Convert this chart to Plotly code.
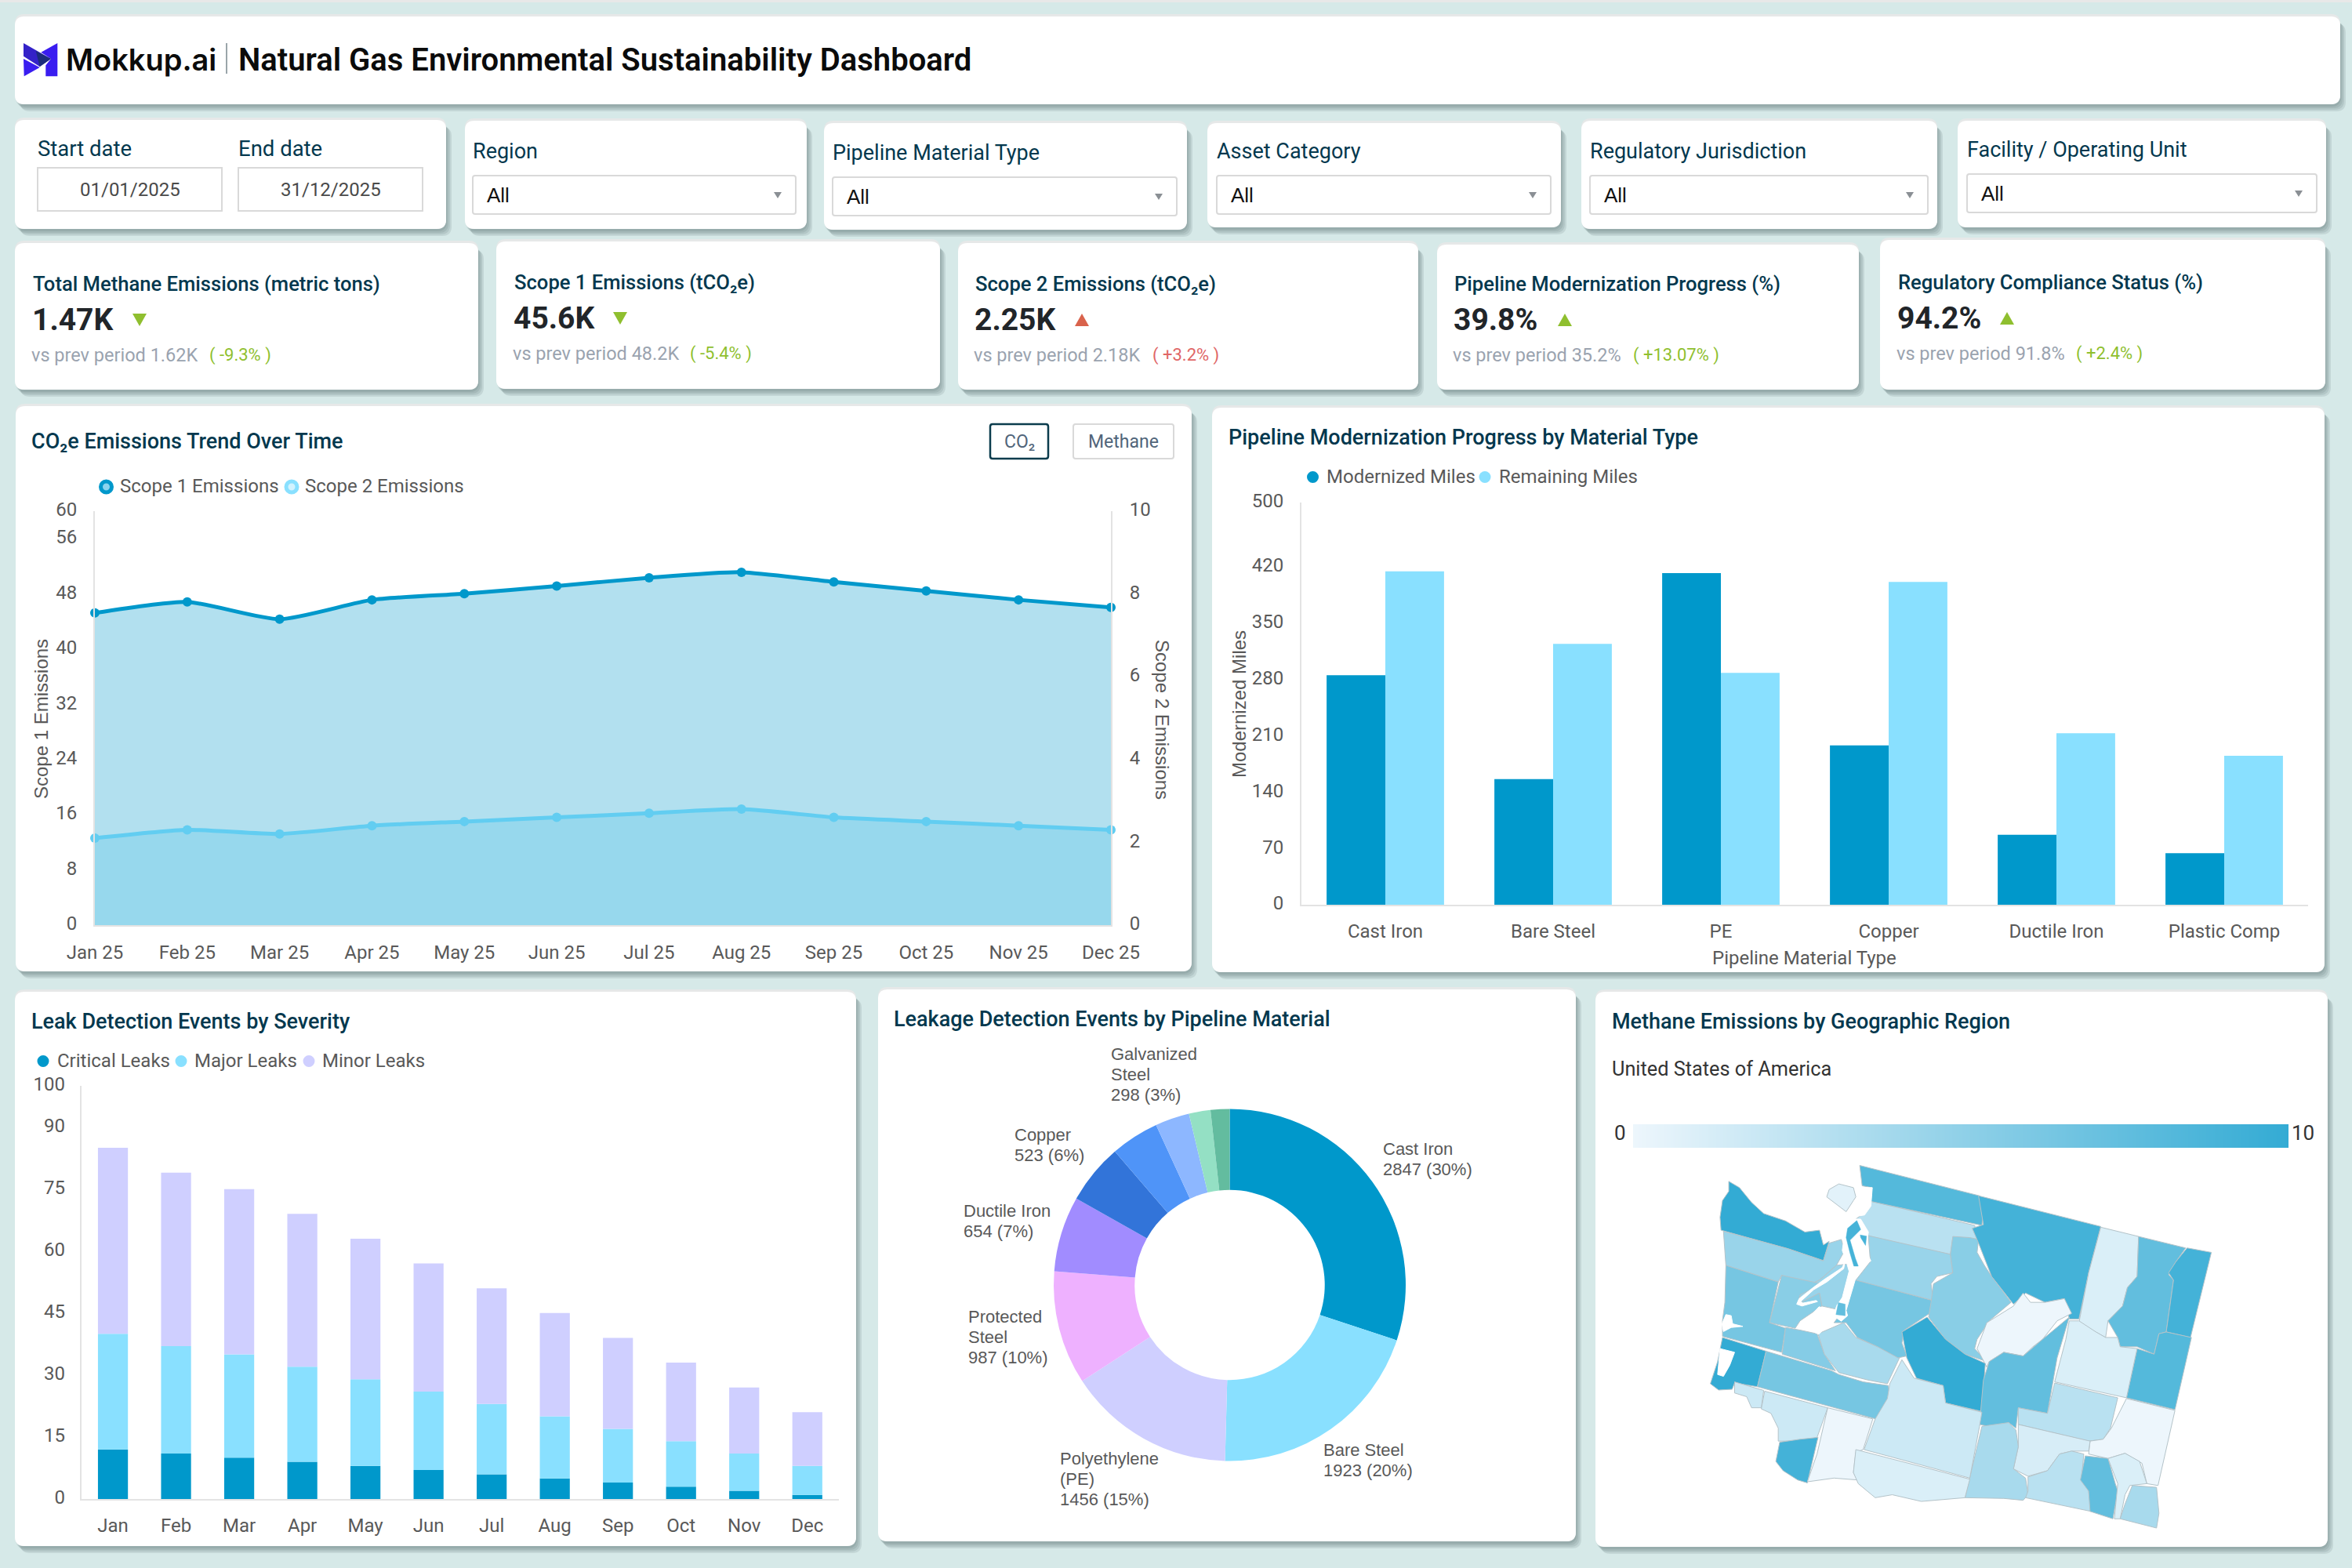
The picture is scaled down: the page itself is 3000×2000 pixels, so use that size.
import plotly.graph_objects as go
from plotly.colors import find_intermediate_color, hex_to_rgb, label_rgb

W = 3000
H = 2000

##data
months = ["Jan 25", "Feb 25", "Mar 25", "Apr 25", "May 25", "Jun 25", "Jul 25", "Aug 25", "Sep 25", "Oct 25", "Nov 25", "Dec 25"]
scope1 = [45.2, 46.8, 44.3, 47.1, 48.0, 49.1, 50.3, 51.1, 49.7, 48.4, 47.1, 46.0]
scope2 = [2.1, 2.3, 2.2, 2.4, 2.5, 2.6, 2.7, 2.8, 2.6, 2.5, 2.4, 2.3]
scope1_ticks = [0, 8, 16, 24, 32, 40, 48, 56, 60]
scope2_ticks = [0, 2, 4, 6, 8, 10]

materials = ["Cast Iron", "Bare Steel", "PE", "Copper", "Ductile Iron", "Plastic Comp"]
modernized = [285, 156, 412, 198, 87, 64]
remaining = [414, 324, 288, 401, 213, 185]
miles_ticks = [0, 70, 140, 210, 280, 350, 420, 500]

short_months = ["Jan", "Feb", "Mar", "Apr", "May", "Jun", "Jul", "Aug", "Sep", "Oct", "Nov", "Dec"]
critical = [12, 11, 10, 9, 8, 7, 6, 5, 4, 3, 2, 1]
major = [28, 26, 25, 23, 21, 19, 17, 15, 13, 11, 9, 7]
minor = [45, 42, 40, 37, 34, 31, 28, 25, 22, 19, 16, 13]
leak_ticks = [0, 15, 30, 45, 60, 75, 90, 100]

pie_names = ["Cast Iron", "Bare Steel", "Polyethylene (PE)", "Protected Steel", "Ductile Iron", "Copper", "Plastic Comp", "Galvanized Steel", "Wrought Iron", "Other"]
pie_values = [2847, 1923, 1456, 987, 654, 523, 420, 298, 187, 165]
pie_colors = ["#0098CB", "#89E0FF", "#CFCFFF", "#EEB1FF", "#A18CFF", "#3274D9", "#4F94F8", "#8DB7FF", "#94E0C4", "#63BC9F"]

kpi_titles = ["Total Methane Emissions (metric tons)", "Scope 1 Emissions (tCO₂e)", "Scope 2 Emissions (tCO₂e)", "Pipeline Modernization Progress (%)", "Regulatory Compliance Status (%)"]
kpi_values = ["1.47K", "45.6K", "2.25K", "39.8%", "94.2%"]
kpi_prev = ["1.62K", "48.2K", "2.18K", "35.2%", "91.8%"]
kpi_delta = ["( -9.3% )", "( -5.4% )", "( +3.2% )", "( +13.07% )", "( +2.4% )"]
kpi_up = [False, False, True, True, True]
kpi_good = [True, True, False, True, True]

filter_names = ["Region", "Pipeline Material Type", "Asset Category", "Regulatory Jurisdiction", "Facility / Operating Unit"]

colorbar_range = [0, 10]

county_names = ["Clallam", "Jefferson", "Kitsap", "Grays Harbor", "Mason", "Thurston", "Pacific", "Wahkiakum", "Lewis", "Cowlitz", "Clark", "Skamania",
                "Pierce", "King", "Snohomish", "Skagit", "Whatcom", "Chelan", "Okanogan", "Douglas", "Kittitas", "Grant", "Ferry", "Stevens", "Pend Oreille",
                "Spokane", "Lincoln", "Adams", "Whitman", "Franklin", "Benton", "Walla Walla", "Columbia", "Garfield", "Asotin", "Klickitat", "Yakima", "San Juan"]
county_values = [10, 4.5, 4.5, 6.4, 5.4, 5.6, 10, 1.8, 6.4, 1.8, 9.1, 0,
                 3.7, 6.4, 4.5, 2.8, 8.2, 5.4, 9.1, 0, 10, 7.5, 1, 7.5, 9.1,
                 8.2, 1, 2.8, 0, 1.2, 3.7, 2.8, 7.5, 1, 3.7, 1, 1.8, 0.6]
county_outlines = [
    [(283,523),(305,540),(330,580),(355,610),(400,630),(440,660),(470,655),(478,695),(490,685),(478,737),(405,705),(267,655),(265,620),(270,575),(283,550)],
    [(272,658),(405,705),(478,738),(490,690),(515,680),(522,710),(505,750),(470,790),(435,810),(392,777),(385,795),(277,750)],
    [(435,810),(470,790),(505,750),(540,745),(525,800),(510,870),(475,860),(470,825),(425,855),(430,830)],
    [(277,750),(385,795),(367,905),(400,920),(392,985),(270,942),(270,900),(275,850)],
    [(392,777),(475,800),(430,830),(425,855),(470,825),(475,860),(430,900),(420,920),(367,905)],
    [(400,918),(430,925),(465,935),(480,990),(503,1035),(393,990)],
    [(270,945),(360,982),(342,1078),(295,1068),(290,1085),(262,1087),(245,1070),(260,1010)],
    [(295,1065),(355,1088),(350,1135),(330,1135),(320,1105),(295,1095)],
    [(360,982),(495,1035),(510,1045),(560,1065),(612,1075),(615,1110),(600,1170),(342,1078)],
    [(357,1090),(487,1135),(465,1215),(430,1225),(385,1225),(385,1190),(370,1150),(350,1138)],
    [(388,1228),(430,1220),(467,1215),(445,1338),(425,1330),(395,1305),(380,1280)],
    [(487,1135),(580,1165),(560,1248),(545,1255),(540,1310),(548,1330),(500,1325),(445,1335),(465,1260)],
    [(467,935),(520,905),(545,945),(590,970),(635,1000),(610,1070),(570,1060),(510,1040),(480,990)],
    [(540,787),(703,845),(697,880),(645,925),(640,960),(650,995),(632,1000),(590,970),(548,945),(525,905),(500,905),(520,870)],
    [(570,660),(740,720),(745,770),(712,780),(700,800),(705,845),(545,790),(575,740)],
    [(570,575),(790,642),(798,680),(745,675),(740,720),(555,665),(545,625),(565,605)],
    [(553,480),(800,562),(808,600),(805,642),(568,575),(578,540),(558,535)],
    [(745,672),(780,675),(798,680),(795,715),(810,750),(825,780),(865,850),(820,900),(795,950),(790,975),(815,1010),(770,990),(730,950),(695,890),(700,850),(705,800),(745,770),(740,720)],
    [(798,562),(1050,645),(1025,770),(1005,895),(985,895),(975,840),(935,850),(895,825),(870,855),(825,780),(798,690),(785,650),(808,640)],
    [(890,825),(905,850),(935,850),(975,840),(990,880),(960,900),(930,950),(910,970),(890,995),(850,985),(820,1010),(815,1025),(795,975),(815,905),(870,860)],
    [(692,890),(730,950),(770,990),(812,1015),(805,1145),(730,1122),(725,1075),(670,1055),(650,1000),(640,930)],
    [(985,890),(960,1000),(940,1150),(880,1135),(875,1190),(860,1175),(835,1190),(800,1180),(808,1060),(820,1010),(850,985),(890,995),(930,950)],
    [(1050,647),(1128,672),(1125,780),(1105,810),(1095,860),(1065,900),(1060,945),(1040,930),(1005,905),(1025,770)],
    [(1128,672),(1225,703),(1205,740),(1190,775),(1200,790),(1185,930),(1170,935),(1160,990),(1125,970),(1090,970),(1085,945),(1065,900),(1095,860),(1105,810),(1125,780)],
    [(1228,703),(1278,715),(1235,945),(1185,930),(1200,790),(1190,770),(1205,740)],
    [(1185,930),(1237,945),(1203,1140),(1103,1108),(1125,975),(1160,990),(1170,935)],
    [(985,900),(1005,900),(1040,930),(1060,945),(1085,945),(1090,970),(1125,975),(1103,1108),(955,1065),(978,950)],
    [(955,1068),(1085,1108),(1070,1190),(1055,1220),(1025,1225),(880,1180),(880,1135),(940,1150)],
    [(1103,1110),(1203,1142),(1168,1345),(1145,1340),(1135,1285),(1100,1258),(1065,1272),(1025,1260),(1028,1225),(1055,1220),(1072,1190)],
    [(880,1180),(1028,1225),(1025,1252),(990,1252),(965,1260),(940,1305),(900,1320),(870,1300),(880,1240)],
    [(805,1185),(860,1175),(875,1195),(880,1240),(870,1300),(895,1325),(900,1370),(890,1385),(850,1380),(770,1378)],
    [(900,1322),(940,1305),(965,1260),(990,1252),(1015,1260),(1010,1330),(1025,1360),(1030,1415),(895,1378),(900,1360)],
    [(1018,1265),(1065,1272),(1080,1340),(1085,1360),(1075,1435),(1028,1415),(1025,1360),(1008,1330)],
    [(1065,1272),(1100,1258),(1130,1280),(1145,1340),(1110,1345),(1100,1370),(1090,1435),(1078,1435),(1085,1340)],
    [(1115,1345),(1165,1350),(1170,1420),(1165,1460),(1090,1435),(1100,1395)],
    [(545,1248),(780,1328),(770,1378),(680,1388),(620,1370),(585,1378),(550,1340),(540,1310)],
    [(640,1005),(665,1055),(725,1075),(730,1122),(805,1147),(800,1185),(780,1325),(562,1248),(585,1165),(610,1110),(615,1070)],
    [(490,545),(510,530),(540,540),(545,565),(525,605),(510,590),(485,565)],
]
water_outlines = [
    [(555,625),(571,660),(568,682),(566,710),(576,738),(560,752),(544,788),(536,823),(533,837),(525,872),(528,886),(515,901),(498,886),(506,858),(517,837),(523,809),(531,766),(525,738),(517,710),(520,682),(522,660),(539,625)],
    [(523,738),(517,756),(480,788),(458,809),(428,840),(423,855),(434,860),(466,848),(463,845),(436,852),(431,848),(458,816),(485,795),(520,759)],
    [(434,911),(461,872),(469,862),(496,872),(490,908),(469,936),(461,932),(455,915),(442,922)],
    [(277,883),(288,886),(291,908),(312,915),(288,918),(272,929),(269,908)],
    [(265,975),(295,985),(285,1020),(272,1050),(260,1045)],
    [(552,540),(579,540),(576,590),(563,614),(544,618),(541,576),(550,572)],
]
island_values = [9, 9, 7.5]
island_outlines = [
    [(528,650),(547,629),(555,653),(544,668),(533,682),(544,731),(550,752),(541,752),(533,717),(525,675)],
    [(554,668),(567,671),(565,696),(555,675)],
    [(509,851),(523,855),(523,886),(504,883)],
]

ROBOTO = "Roboto"
ARIAL = "Liberation Sans"
NAVY = "#03384E"
GREY = "#595959"
GREEN = "#8FBF2F"
RED = "#E06666"
BG = "#D6E9E8"
map_low = "#EDF6FC"
map_high = "#33ABD4"


def px(x):
    return x / W


def py(y):
    return 1 - y / H


annotations = []
shapes = []


def add_text(x, y, s, size, color=GREY, family=ROBOTO, weight=400, anchor="left", angle=0):
    if anchor == "left":
        x = x - 2  ##annotation box has its own padding
    annotations.append(dict(x=px(x), y=py(y), xref="paper", yref="paper", text=s, showarrow=False, xanchor=anchor, yanchor="middle",
                            textangle=angle, font=dict(family=family, size=size, color=color, weight=weight)))


def rounded(x0, y0, x1, y1, r):
    pts = [(x0 + r, y0), (x1 - r, y0), "q", (x1, y0), (x1, y0 + r), (x1, y1 - r), "q", (x1, y1), (x1 - r, y1), (x0 + r, y1), "q", (x0, y1), (x0, y1 - r), (x0, y0 + r), "q", (x0, y0), (x0 + r, y0)]
    path = ""
    i = 0
    first = True
    while i < len(pts):
        p = pts[i]
        if p == "q":
            a = pts[i + 1]
            b = pts[i + 2]
            path += f"Q {px(a[0])} {py(a[1])} {px(b[0])} {py(b[1])} "
            i += 3
        else:
            path += f"{'M' if first else 'L'} {px(p[0])} {py(p[1])} "
            first = False
            i += 1
    return path + "Z"


def add_path(path, fill, line=None, width=0):
    shapes.append(dict(type="path", path=path, xref="paper", yref="paper", fillcolor=fill, line=dict(color=line or fill, width=width), layer="below"))


def add_card(x0, y0, x1, y1):
    for off in [9, 7, 5, 3]:
        add_path(rounded(x0 + off - 2, y0 + off, x1 + off - 2, y1 + off, 12), "rgba(70,90,95,0.13)")
    add_path(rounded(x0, y0 - 3, x1, y1, 12), "#E6E8E8")
    add_path(rounded(x0, y0, x1, y1, 12), "white")


def add_poly(points, fill):
    path = "M " + " L ".join(f"{px(x)} {py(y)}" for x, y in points) + " Z"
    add_path(path, fill)


def add_dot(x, y, color, d=15, ring=None):
    shapes.append(dict(type="circle", xref="paper", yref="paper", x0=px(x - d / 2), x1=px(x + d / 2), y0=py(y + d / 2), y1=py(y - d / 2),
                       fillcolor=ring or color, line=dict(color=color, width=5 if ring else 0), layer="above"))


##background and cards
add_poly([(0, 0), (W, 0), (W, 3), (0, 3)], "#E8E8E8")
add_card(19, 21, 2985, 133)
add_card(19, 153, 569, 292)
add_card(593, 154, 1029, 292)
add_card(1051, 157, 1514, 293)
add_card(1540, 157, 1991, 290)
add_card(2017, 154, 2471, 292)
add_card(2497, 154, 2967, 290)
kpi_boxes = [(19, 310, 610, 497), (633, 308, 1199, 496), (1222, 310, 1809, 497), (1833, 312, 2371, 497), (2398, 306, 2966, 497)]
for b in kpi_boxes:
    add_card(*b)
add_card(20, 518, 1520, 1239)
add_card(1546, 520, 2965, 1240)
add_card(19, 1265, 1092, 1972)
add_card(1120, 1262, 2010, 1966)
add_card(2035, 1265, 2969, 1973)

##header, logo pieces
add_poly([(73.3, 55), (73.3, 97.3), (58.3, 97.3), (58.3, 83.3), (65, 75), (52.3, 66.7)], "#3A1DF0")
add_poly([(30, 55), (65, 75), (50.7, 85), (30, 71.7)], "#3422C8")
add_poly([(45.7, 65), (65, 75), (50.7, 85)], "#1C2C7C")
add_poly([(30, 75), (50.7, 86), (30.7, 97.3)], "#3A1DF0")
add_text(84, 76, "Mokkup.ai", 38, "#0B0B0B", family="Inter", weight=600)
add_path(f"M {px(289)} {py(55)} L {px(289)} {py(94)}", "rgba(0,0,0,0)", "#9AA5AA", 2)
add_text(304, 76, "Natural Gas Environmental Sustainability Dashboard", 40, "#0B0B0B", weight=600)

##date filters
add_text(48, 189, "Start date", 27.5, NAVY)
add_text(304, 189, "End date", 27.5, NAVY)
for x0, x1, label in [(48, 283, "01/01/2025"), (304, 539, "31/12/2025")]:
    add_path(f"M {px(x0)} {py(214)} L {px(x1)} {py(214)} L {px(x1)} {py(269)} L {px(x0)} {py(269)} Z", "white", "#D9D9D9", 2)
    add_text((x0 + x1) / 2, 242, label, 24, "#4A4A4A", anchor="center")

##dropdown filters
filter_x0 = [603, 1062, 1552, 2028, 2509]
filter_x1 = [1015, 1501, 1978, 2459, 2955]
filter_top = [224, 226, 224, 224, 222]
for name, x0, x1, top in zip(filter_names, filter_x0, filter_x1, filter_top):
    add_text(x0, top - 31, name, 27, NAVY)
    add_path(rounded(x0, top, x1, top + 49, 3), "white", "#D9D9D9", 2)
    add_text(x0 + 18, top + 25, "All", 26, "#111111", family=ARIAL)
    ax = x1 - 23
    add_poly([(ax - 5, top + 21), (ax + 5, top + 21), (ax, top + 29)], "#8A8F94")

##kpi cards
kpi_x = [42, 656, 1244, 1855, 2421]
kpi_title_y = [362, 360, 362, 362, 360]
kpi_tri_x = [178, 791, 1380, 1996, 2560]
kpi_delta_x = [265, 878, 1468, 2081, 2646]
for i in range(5):
    x = kpi_x[i]
    y = kpi_title_y[i]
    add_text(x, y, kpi_titles[i], 25.6, NAVY, weight=500)
    add_text(x - 1, y + 46, kpi_values[i], 39, "#212529", weight=700)
    add_text(x - 2, y + 91, "vs prev period " + kpi_prev[i], 23.5, "#9AA3AF")
    col = GREEN if kpi_good[i] else RED
    add_text(kpi_delta_x[i] + 2, y + 91, kpi_delta[i], 22, col)
    tx = kpi_tri_x[i]
    ty = y + 46
    if kpi_up[i]:
        tri_col = GREEN if kpi_good[i] else "#D9634C"
        add_poly([(tx - 9, ty + 8), (tx + 9, ty + 8), (tx, ty - 8)], tri_col)
    else:
        add_poly([(tx - 9, ty - 8), (tx + 9, ty - 8), (tx, ty + 8)], GREEN)

##panel titles
add_text(40, 563, "CO₂e Emissions Trend Over Time", 27, NAVY, weight=500)
add_text(1567, 558, "Pipeline Modernization Progress by Material Type", 27, NAVY, weight=500)
add_text(40, 1303, "Leak Detection Events by Severity", 27, NAVY, weight=500)
add_text(1140, 1300, "Leakage Detection Events by Pipeline Material", 27, NAVY, weight=500)
add_text(2056, 1303, "Methane Emissions by Geographic Region", 27, NAVY, weight=500)
add_text(2056, 1363, "United States of America", 25.3, "#333333")

##co2 buttons
add_path(rounded(1263, 541, 1337, 585, 3), "white", "#0B3C4D", 2.5)
add_path(rounded(1369, 541, 1497, 585, 3), "white", "#D9D9D9", 2)
add_text(1300, 563, "CO₂", 23, "#51657A", anchor="center")
add_text(1433, 563, "Methane", 23, "#51657A", anchor="center")

##legends
add_dot(135.5, 621, "#0098CB", 14, ring="#89D4EE")
add_text(153, 620, "Scope 1 Emissions", 24)
add_dot(372, 621, "#89E0FF", 14, ring="#D3F3FF")
add_text(389, 620, "Scope 2 Emissions", 24)
add_dot(1674.5, 608.5, "#0098CB")
add_text(1692, 608, "Modernized Miles", 24)
add_dot(1894, 608.5, "#89E0FF")
add_text(1912, 608, "Remaining Miles", 24)
for dx, tx_, name, col in [(55, 72.5, "Critical Leaks", "#0098CB"), (231, 248, "Major Leaks", "#89E0FF"), (394, 411, "Minor Leaks", "#CFCFFF")]:
    add_dot(dx, 1353.5, col)
    add_text(tx_, 1353, name, 24)

##axis titles
add_text(52, 917, "Scope 1 Emissions", 24, family=ARIAL, anchor="center", angle=-90)
add_text(1483, 918, "Scope 2 Emissions", 24, family=ARIAL, anchor="center", angle=90)
add_text(1580, 898, "Modernized Miles", 24, family=ARIAL, anchor="center", angle=-90)
add_text(2301, 1222, "Pipeline Material Type", 24, anchor="center")

##pie labels, one annotation per line
total = sum(pie_values)
pie_label_pos = {
    "Galvanized Steel": (1417, 1344, ["Galvanized", "Steel"]),
    "Copper": (1294, 1447, ["Copper"]),
    "Cast Iron": (1764, 1465, ["Cast Iron"]),
    "Ductile Iron": (1229, 1544, ["Ductile Iron"]),
    "Protected Steel": (1235, 1679, ["Protected", "Steel"]),
    "Polyethylene (PE)": (1352, 1860, ["Polyethylene", "(PE)"]),
    "Bare Steel": (1688, 1849, ["Bare Steel"]),
}
for name, value in zip(pie_names, pie_values):
    if name in pie_label_pos:
        x, y, lines = pie_label_pos[name]
        lines = lines + [f"{value} ({round(value / total * 100)}%)"]
        for j, line in enumerate(lines):
            add_text(x, y + j * 26, line, 22, family=ARIAL)

##colorbar end labels
add_text(2066, 1445, "0", 26, "#333333", anchor="center")
add_text(2937, 1445, "10", 26, "#333333", anchor="center")

fig = go.Figure()

##co2 area chart
fig.add_trace(go.Scatter(x=months, y=scope1, name="Scope 1 Emissions", mode="lines+markers", fill="tozeroy", fillcolor="rgba(0,152,203,0.30)",
                         line=dict(color="#0098CB", width=5, shape="spline", smoothing=0.6), marker=dict(color="#0098CB", size=12),
                         cliponaxis=False, xaxis="x", yaxis="y", showlegend=False))
fig.add_trace(go.Scatter(x=months, y=scope2, name="Scope 2 Emissions", mode="lines+markers", fill="tozeroy", fillcolor="rgba(110,205,236,0.40)",
                         line=dict(color="#62CDF1", width=5, shape="spline", smoothing=0.6), marker=dict(color="#62CDF1", size=12),
                         cliponaxis=False, xaxis="x", yaxis="y2", showlegend=False))

##grouped bars
fig.add_trace(go.Bar(x=materials, y=modernized, name="Modernized Miles", marker=dict(color="#0098CB", line=dict(width=0)), xaxis="x3", yaxis="y3", showlegend=False))
fig.add_trace(go.Bar(x=materials, y=remaining, name="Remaining Miles", marker=dict(color="#89E0FF", line=dict(width=0)), xaxis="x3", yaxis="y3", showlegend=False))

##stacked bars, barmode is for the whole layout so stack with base
fig.add_trace(go.Bar(x=short_months, y=critical, name="Critical Leaks", marker=dict(color="#0098CB", line=dict(width=0)), width=0.475, offsetgroup="leaks", xaxis="x4", yaxis="y4", showlegend=False))
fig.add_trace(go.Bar(x=short_months, y=major, base=critical, name="Major Leaks", marker=dict(color="#89E0FF", line=dict(width=0)), width=0.475, offsetgroup="leaks", xaxis="x4", yaxis="y4", showlegend=False))
fig.add_trace(go.Bar(x=short_months, y=minor, base=[a + b for a, b in zip(critical, major)], name="Minor Leaks", marker=dict(color="#CFCFFF", line=dict(width=0)), width=0.475, offsetgroup="leaks", xaxis="x4", yaxis="y4", showlegend=False))

##donut
fig.add_trace(go.Pie(labels=pie_names, values=pie_values, hole=0.54, sort=False, direction="clockwise", rotation=0, textinfo="none",
                     marker=dict(colors=pie_colors, line=dict(width=0)), domain=dict(x=[px(1344), px(1793)], y=[py(1863.6), py(1414.4)]), showlegend=False))


##map
def county_color(v):
    c = find_intermediate_color(hex_to_rgb(map_low), hex_to_rgb(map_high), v / 10)
    return label_rgb(c)


def add_map_shape(outline, fill, line, width, name=None):
    xs = [p[0] for p in outline] + [outline[0][0]]
    ys = [p[1] for p in outline] + [outline[0][1]]
    fig.add_trace(go.Scatter(x=xs, y=ys, name=name, mode="lines", fill="toself", fillcolor=fill, line=dict(color=line, width=width),
                             hoverinfo="skip" if name is None else "name", xaxis="x5", yaxis="y5", showlegend=False))


for name, value, outline in zip(county_names, county_values, county_outlines):
    add_map_shape(outline, county_color(value), "#B4C3C9", 1, name)
for outline in water_outlines:
    add_map_shape(outline, "white", "white", 1)
for value, outline in zip(island_values, island_outlines):
    add_map_shape(outline, county_color(value), county_color(value), 0.5)

##colour key as a one row heatmap
fig.add_trace(go.Heatmap(x=colorbar_range, y=[0, 1], z=[colorbar_range, colorbar_range], zmin=0, zmax=10, zsmooth="best", showscale=False,
                         colorscale=[[0, map_low], [1, map_high]], xaxis="x6", yaxis="y6", hoverinfo="skip"))

tick_font = dict(family=ROBOTO, size=24, color=GREY)
blank_tick = dict(ticks="outside", tickcolor="rgba(0,0,0,0)", tickwidth=1, showgrid=False, zeroline=False, tickfont=tick_font, showline=True, linecolor="#E3E3E3", linewidth=2)


def dom_x(a, b):
    return [px(a), px(b)]


def dom_y(top, bottom):
    return [py(bottom), py(top)]


fig.update_layout(
    width=W, height=H, margin=dict(l=0, r=0, t=0, b=0, pad=0, autoexpand=False), paper_bgcolor=BG, plot_bgcolor="rgba(0,0,0,0)",
    font=dict(family=ROBOTO, color=GREY), shapes=shapes, annotations=annotations, barmode="group", hovermode="closest",
    xaxis=dict(domain=dom_x(121, 1417), type="category", range=[0, 11], anchor="y", ticklen=12, **blank_tick),
    yaxis=dict(domain=dom_y(651.5, 1180), range=[0, 60], tickvals=scope1_ticks, anchor="x", ticklen=16, ticklabelshift=-2, **blank_tick),
    yaxis2=dict(domain=dom_y(651.5, 1180), range=[0, 10], tickvals=scope2_ticks, overlaying="y", side="right", anchor="x", ticklen=17, ticklabelshift=-2, **blank_tick),
    xaxis3=dict(domain=dom_x(1660, 2944), type="category", anchor="y3", ticklen=11, **blank_tick),
    yaxis3=dict(domain=dom_y(640.5, 1154), range=[0, 500], tickvals=miles_ticks, anchor="x3", ticklen=16, ticklabelshift=-2, **blank_tick),
    xaxis4=dict(domain=dom_x(103.8, 1070), type="category", anchor="y4", ticklen=11, **blank_tick),
    yaxis4=dict(domain=dom_y(1385, 1912), range=[0, 100], tickvals=leak_ticks, anchor="x4", ticklen=14, ticklabelshift=-2, **blank_tick),
    xaxis5=dict(domain=dom_x(2030, 3000), range=[0, 1568], visible=False, anchor="y5"),
    yaxis5=dict(domain=dom_y(1260, 2000), range=[1568, 0], visible=False, anchor="x5"),
    xaxis6=dict(domain=dom_x(2083, 2919), range=colorbar_range, visible=False, anchor="y6"),
    yaxis6=dict(domain=dom_y(1434, 1464), range=[0, 1], visible=False, anchor="x6"),
    bargap=0.3, bargroupgap=0,
)

fig.write_html("out.html", config={"displayModeBar": False}, post_script="document.body.style.margin='0';document.body.style.overflow='hidden';")
